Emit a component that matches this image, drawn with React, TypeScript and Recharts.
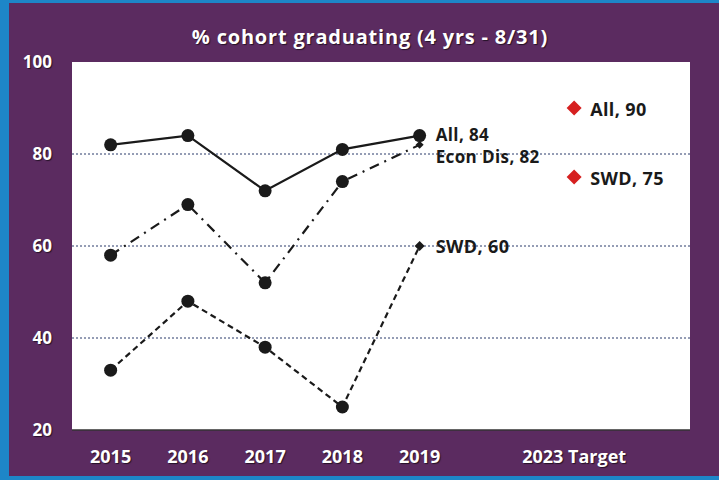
import {
  ComposedChart,
  Line,
  XAxis,
  YAxis,
  CartesianGrid,
  ReferenceLine,
  LabelList,
} from "recharts";

// x categories (two blank slots keep the target column apart)
const categories = ["2015", "2016", "2017", "2018", "2019", " ", "2023 Target", "  "];

// graduation rates, %
const allStudents = [82, 84, 72, 81, 84, null, null, null];
const econDis = [58, 69, 52, 74, 82, null, null, null];
const swd = [33, 48, 38, 25, 60, null, null, null];

// 2023 targets
const targetAll = [null, null, null, null, null, null, 90, null];
const targetSwd = [null, null, null, null, null, null, 75, null];

const yTicks = [20, 40, 60, 80, 100];
const gridLines = [40, 60, 80];

const data = categories.map((name, i) => ({
  name,
  all: allStudents[i],
  econ: econDis[i],
  swd: swd[i],
  tAll: targetAll[i],
  tSwd: targetSwd[i],
}));

const FONT = "'Open Sans', Lato, sans-serif";
const LAST = 4; // 2019

const circleDot = (props: any) => {
  const { cx, cy, index, value } = props;
  if (cx == null || cy == null || value == null) return <g key={index} />;
  return <circle key={index} cx={cx} cy={cy} r={6.5} fill="#1a1a1a" />;
};

// circles, but a small diamond on the last year
const mixedDot = (size: number) => (props: any) => {
  const { cx, cy, index, value } = props;
  if (cx == null || cy == null || value == null) return <g key={index} />;
  if (index === LAST) {
    return (
      <path
        key={index}
        d={`M${cx},${cy - size} L${cx + size},${cy} L${cx},${cy + size} L${cx - size},${cy} Z`}
        fill="#1a1a1a"
      />
    );
  }
  return <circle key={index} cx={cx} cy={cy} r={6.5} fill="#1a1a1a" />;
};

const targetDot = (props: any) => {
  const { cx, cy, index, value } = props;
  if (cx == null || cy == null || value == null) return <g key={index} />;
  const s = 7.5;
  return (
    <path
      key={index}
      d={`M${cx},${cy - s} L${cx + s},${cy} L${cx},${cy + s} L${cx - s},${cy} Z`}
      fill="#d62020"
    />
  );
};

// end label next to a single point
const endLabel = (text: string, only: number, dy: number, size = 18) => (props: any) => {
  const { x, y, index } = props;
  if (index !== only || x == null || y == null) return null;
  return (
    <text
      x={x + 16}
      y={y + dy}
      fill="#1a1a1a"
      fontFamily={FONT}
      fontWeight={700}
      fontSize={size}
      letterSpacing={0.4}
    >
      {text}
    </text>
  );
};

const whiteShadow = { textShadow: "1px 1px 1px rgba(0,0,0,0.6)" };

export default function App() {
  return (
    <div style={{ position: "absolute", left: 0, top: 0, width: 719, height: 480, background: "#1d86c8" }}>
      <div
        style={{
          position: "absolute",
          left: 9,
          top: 3,
          width: 710,
          height: 473,
          background: "#5b2b60",
        }}
      />
      <div style={{ position: "absolute", left: 0, top: 0 }}>
        <ComposedChart
          width={719}
          height={480}
          data={data}
          margin={{ top: 62, right: 29, bottom: 0, left: 0 }}
        >
          <text
            x={370}
            y={44}
            textAnchor="middle"
            fill="#fff"
            fontFamily={FONT}
            fontWeight={700}
            fontSize={20}
            letterSpacing={0.8}
            style={whiteShadow}
          >
            % cohort graduating (4 yrs - 8/31)
          </text>
          <CartesianGrid fill="#ffffff" horizontal={false} vertical={false} />
          {gridLines.map((v) => (
            <ReferenceLine key={v} y={v} stroke="#2a3a6a" strokeDasharray="2 2" strokeWidth={1} />
          ))}
          <XAxis
            dataKey="name"
            scale="band"
            height={50}
            axisLine={{ stroke: "#333", strokeWidth: 1.5 }}
            tickLine={false}
            interval={0}
            tick={{ fill: "#fff", fontFamily: FONT, fontWeight: 700, fontSize: 18, style: whiteShadow }}
            tickMargin={14}
          />
          <YAxis
            domain={[20, 100]}
            ticks={yTicks}
            width={72}
            axisLine={false}
            tickLine={false}
            tick={{ fill: "#fff", fontFamily: FONT, fontWeight: 700, fontSize: 17, style: whiteShadow }}
            tickMargin={14}
            interval={0}
          />
          <Line
            dataKey="all"
            stroke="#1a1a1a"
            strokeWidth={2.2}
            dot={circleDot}
            activeDot={false}
            connectNulls={false}
            isAnimationActive={false}
          >
            <LabelList dataKey="all" content={endLabel("All, 84", LAST, 5, 17)} />
          </Line>
          <Line
            dataKey="econ"
            stroke="#1a1a1a"
            strokeWidth={2.2}
            strokeDasharray="10 6 2 6"
            dot={mixedDot(4)}
            activeDot={false}
            isAnimationActive={false}
          >
            <LabelList dataKey="econ" content={endLabel("Econ Dis, 82", LAST, 18, 17)} />
          </Line>
          <Line
            dataKey="swd"
            stroke="#1a1a1a"
            strokeWidth={2.2}
            strokeDasharray="6 4"
            dot={mixedDot(5)}
            activeDot={false}
            isAnimationActive={false}
          >
            <LabelList dataKey="swd" content={endLabel("SWD, 60", LAST, 7)} />
          </Line>
          <Line
            dataKey="tAll"
            stroke="none"
            dot={targetDot}
            activeDot={false}
            isAnimationActive={false}
          >
            <LabelList dataKey="tAll" content={endLabel("All, 90", 6, 8)} />
          </Line>
          <Line
            dataKey="tSwd"
            stroke="none"
            dot={targetDot}
            activeDot={false}
            isAnimationActive={false}
          >
            <LabelList dataKey="tSwd" content={endLabel("SWD, 75", 6, 8)} />
          </Line>
        </ComposedChart>
      </div>
    </div>
  );
}
